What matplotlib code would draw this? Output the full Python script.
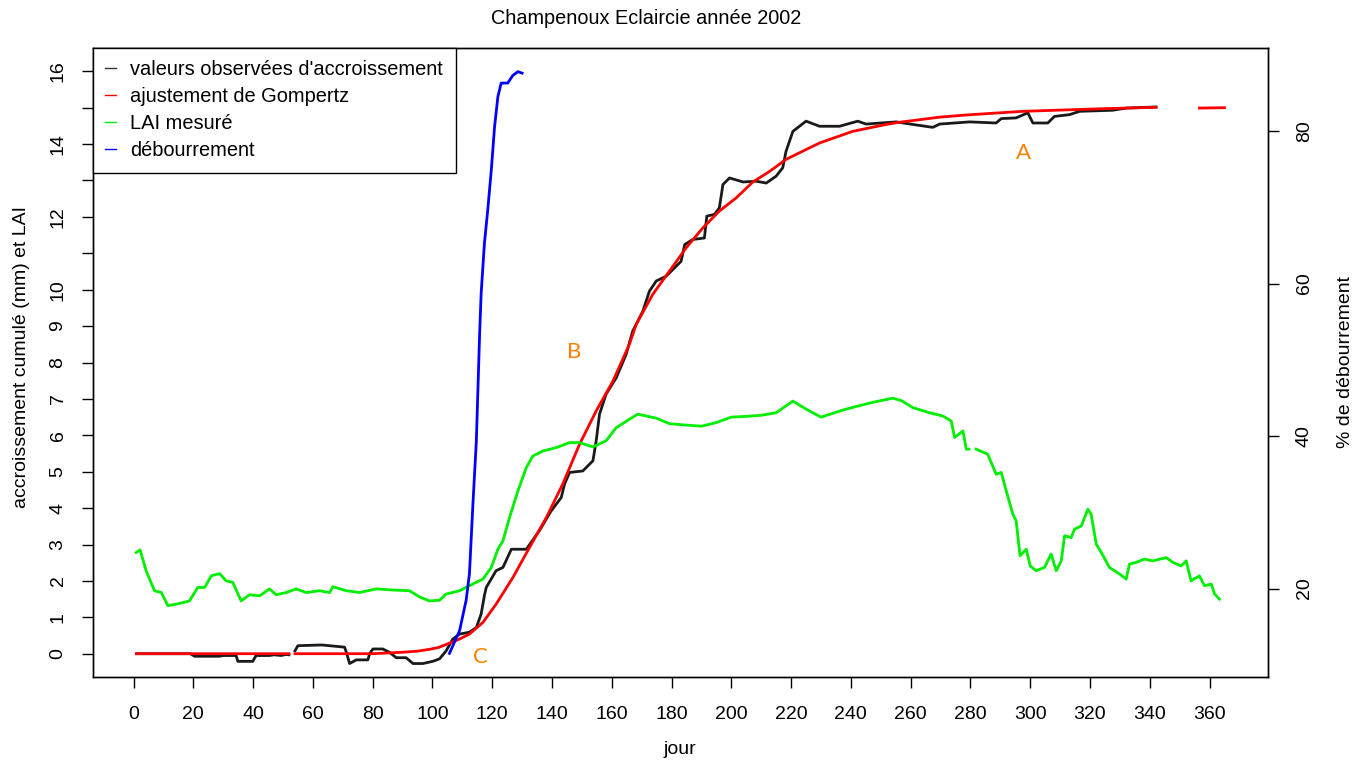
import numpy as np
import matplotlib
matplotlib.use("Agg")
import matplotlib.pyplot as plt
from matplotlib.lines import Line2D

plt.rcParams['font.family'] = ['Liberation Sans', 'DejaVu Sans']

nan = np.nan

# observed cumulative increment (mm), left axis
obs_day = [1, 19, 20.4, 28.8, 29.9, 34.3, 34.9, 39.9, 41.0, 45.5, 47, 49.4, 51.0, 52,
           53, 54, 55, 63, 70.6, 71.2, 72.3, 74.5, 78.4, 79.0, 80.1, 83.4, 85.6, 87.9,
           91.2, 93.5, 96.8, 100.1, 102.4, 104.6, 106.8, 109.1, 112.4, 114.7, 116.3,
           117.4, 118, 121.3, 123.6, 126.4, 131.4, 135.8, 139.7, 143.1, 144.2, 145.9,
           150.3, 153.7, 154.8, 155.9, 158.1, 161.5, 164.8, 167.0, 170.4, 172.6, 174.9,
           178.2, 183.2, 184.4, 187.1, 191.0, 191.8, 194.4, 196.0, 197.2, 199.4, 203.9,
           208.3, 211.7, 215.0, 217.2, 218.3, 220.6, 225.0, 229.5, 236.2, 242.3, 245.1,
           255.2, 260.7, 267.4, 269.7, 279.7, 288.6, 290.3, 295.3, 299.2, 300.9, 305.9,
           308.1, 313.2, 316.5, 327.6, 332.1, 342.1]
obs_val = [0.0, 0.0, -0.07, -0.07, -0.05, -0.05, -0.21, -0.21, -0.05, -0.05, -0.03, -0.05,
           -0.02, -0.03, nan, 0.08, 0.22, 0.24, 0.18, 0.04, -0.27, -0.17, -0.17, 0.0, 0.13,
           0.13, 0.04, -0.11, -0.11, -0.27, -0.27, -0.21, -0.14, 0.08, 0.40, 0.54, 0.59,
           0.72, 1.09, 1.6, 1.82, 2.28, 2.37, 2.87, 2.87, 3.38, 3.92, 4.29, 4.66, 4.98,
           5.02, 5.30, 5.85, 6.58, 7.13, 7.58, 8.22, 8.86, 9.41, 9.96, 10.24, 10.37, 10.78,
           11.24, 11.38, 11.42, 12.02, 12.07, 12.25, 12.89, 13.07, 12.96, 12.98, 12.93,
           13.12, 13.35, 13.80, 14.35, 14.63, 14.49, 14.49, 14.63, 14.55, 14.61, 14.54,
           14.46, 14.55, 14.61, 14.58, 14.70, 14.72, 14.86, 14.58, 14.58, 14.76, 14.81,
           14.90, 14.93, 14.99, 15.02]

# Gompertz fit, left axis
gomp_day = [1, 52, 53, 54, 80, 85, 90, 95, 99, 102, 105.7, 109, 112.4, 116.9, 121.3, 126.9,
            132.5, 138.1, 143.6, 149.2, 154.8, 160.4, 165.9, 168.2, 173.7, 179.3, 184.9,
            190.5, 196.0, 201.6, 207.2, 212.8, 218.3, 229.5, 240.6, 251.8, 256.3, 269.7,
            278.6, 297.5, 323.2, 342.1, 343, 356.6, 365]
gomp_val = [0.0, 0.0, nan, 0.0, 0.0, 0.02, 0.04, 0.07, 0.12, 0.17, 0.29, 0.40, 0.54, 0.86,
            1.36, 2.09, 2.92, 3.74, 4.66, 5.75, 6.67, 7.49, 8.50, 9.05, 9.87, 10.51, 11.15,
            11.70, 12.16, 12.52, 12.96, 13.25, 13.58, 14.03, 14.35, 14.54, 14.60, 14.74,
            14.80, 14.90, 14.97, 15.01, nan, 14.99, 15.0]

# measured LAI, left axis
lai_day = [0.9, 2.2, 4.2, 7.0, 9.3, 11.5, 15.4, 18.7, 21.5, 23.8, 26.0, 28.8, 31.0, 33.2,
           36.0, 38.8, 42.2, 45.5, 47.7, 51.1, 54.4, 57.8, 62.2, 65.6, 66.7, 71.2, 75.6,
           81.2, 86.8, 92.3, 95.7, 99.0, 102.4, 104.6, 109.1, 112.4, 116.9, 119.7, 121.9,
           123.6, 125.8, 128.6, 131.4, 133.6, 137.0, 141.4, 145.9, 149.2, 153.7, 158.1,
           161.5, 165.9, 168.7, 174.9, 179.3, 185, 190, 195, 200, 205, 210, 215, 220.6,
           225, 230, 238.4, 247, 254, 257, 260.7, 266.3, 270.8, 273.6, 274.7, 277.5, 278.6,
           279.5, 280.5, 281.9, 285.8, 288.6, 290.3, 292.0, 294.2, 295.3, 296.6, 298.7,
           300.0, 302.0, 304.8, 307.0, 308.7, 310.4, 311.5, 313.7, 314.8, 317.1, 319.3,
           320.4, 322.1, 323.8, 326.5, 329.9, 332.1, 333.2, 335.5, 338.2, 341.0, 345.5,
           347.7, 350.5, 352.2, 353.8, 356.6, 358.3, 360.6, 361.7, 363.3]
lai_val = [2.78, 2.85, 2.28, 1.73, 1.68, 1.32, 1.38, 1.45, 1.82, 1.82, 2.14, 2.20, 2.00,
           1.96, 1.45, 1.62, 1.59, 1.78, 1.62, 1.68, 1.78, 1.68, 1.73, 1.68, 1.84, 1.73,
           1.68, 1.78, 1.75, 1.73, 1.56, 1.45, 1.47, 1.64, 1.73, 1.87, 2.05, 2.37, 2.87,
           3.10, 3.74, 4.47, 5.11, 5.43, 5.57, 5.66, 5.80, 5.80, 5.68, 5.85, 6.21, 6.44,
           6.58, 6.47, 6.32, 6.28, 6.25, 6.35, 6.50, 6.52, 6.55, 6.62, 6.94, 6.72, 6.50,
           6.72, 6.90, 7.02, 6.95, 6.76, 6.62, 6.53, 6.39, 5.94, 6.12, 5.62, 5.62, nan,
           5.62, 5.48, 4.93, 4.98, 4.47, 3.83, 3.65, 2.69, 2.87, 2.41, 2.28, 2.37, 2.74,
           2.28, 2.55, 3.24, 3.19, 3.42, 3.51, 3.97, 3.83, 3.01, 2.78, 2.37, 2.19, 2.05,
           2.46, 2.51, 2.60, 2.55, 2.64, 2.51, 2.41, 2.55, 2.00, 2.14, 1.87, 1.91, 1.64,
           1.50]

# budburst percentage, right axis
bud_day = [105.7, 109.1, 111.3, 112.4, 113.5, 114.7, 115.8, 116.3, 117.4, 118.5, 119.7,
           120.8, 121.9, 123.0, 125.2, 126.9, 128.6, 130.0]
bud_pct = [11.5, 14.5, 18.5, 22.0, 30.7, 39.4, 53.5, 58.7, 65.3, 69.6, 74.9, 80.6, 84.5,
           86.3, 86.3, 87.3, 87.8, 87.6]

fig = plt.figure(figsize=(13.65, 7.62), dpi=100)
ax = fig.add_axes([93/1365, 1 - 677/762, (1268 - 93)/1365, (677 - 48)/762])

lw = 2.0
ax.plot(obs_day, obs_val, color='#1a1a1a', lw=lw)
ax.plot(gomp_day, gomp_val, color='red', lw=lw)
ax.plot(lai_day, lai_val, color='#00ee00', lw=lw)

ax.set_xlim(-13.56, 379.56)
ax.set_ylim(-0.64, 16.64)
ax.set_xticks(np.arange(0, 361, 20))
ax.set_yticks(np.arange(0, 17, 1))
ax.set_yticklabels([str(v) if (v <= 10 or v % 2 == 0) else '' for v in range(17)])
ax.tick_params(axis='both', direction='out', length=8, width=1, labelsize=14)
ax.tick_params(axis='y', labelrotation=90, pad=11)
ax.tick_params(axis='x', pad=13)
for lbl in ax.get_yticklabels():
    lbl.set_va('center')

# text annotations
orange = '#ff8000'
for txt, tx, ty in [('A', 297.8, 13.75), ('B', 147.5, 8.29), ('C', 116.1, -0.08)]:
    ax.text(tx, ty, txt, color=orange, fontsize=16, ha='center', va='center', family='Lato')

ax2 = ax.twinx()
ax2.plot(bud_day, bud_pct, color='blue', lw=lw)
ax2.set_ylim(8.4, 90.9)
ax2.set_yticks([20, 40, 60, 80])
ax2.tick_params(axis='y', direction='out', length=8, width=1, labelsize=14,
                labelrotation=90, pad=12)
for lbl in ax2.get_yticklabels():
    lbl.set_va('center')

for a in (ax, ax2):
    for s in a.spines.values():
        s.set_linewidth(1)
        s.set_color('black')

handles = [Line2D([], [], color='#333333', lw=1),
           Line2D([], [], color='red', lw=1),
           Line2D([], [], color='#00ee00', lw=1),
           Line2D([], [], color='blue', lw=1)]
labels = ["valeurs observées d'accroissement", "ajustement de Gompertz",
          "LAI mesuré", "débourrement"]
leg = ax2.legend(handles, labels, loc='upper left', bbox_to_anchor=(0, 1),
                 borderaxespad=0, fontsize=14.4, handlelength=0.55, handletextpad=0.7,
                 labelspacing=0.4, borderpad=0.62, fancybox=False, framealpha=1,
                 edgecolor='black')
leg.get_frame().set_linewidth(1)

fig.text(646/1365, 1 - 18/762, 'Champenoux Eclaircie année 2002', fontsize=14.3,
         ha='center', va='center')
fig.text(680/1365, 1 - 750/762, 'jour', fontsize=14, ha='center', va='center')
fig.text(22/1365, 1 - 357/762, 'accroissement cumulé (mm) et LAI', fontsize=14,
         rotation=90, ha='center', va='center')
fig.text(1345/1365, 1 - 362/762, '% de débourrement', fontsize=14,
         rotation=90, ha='center', va='center')

fig.savefig('out.png', dpi=100)
